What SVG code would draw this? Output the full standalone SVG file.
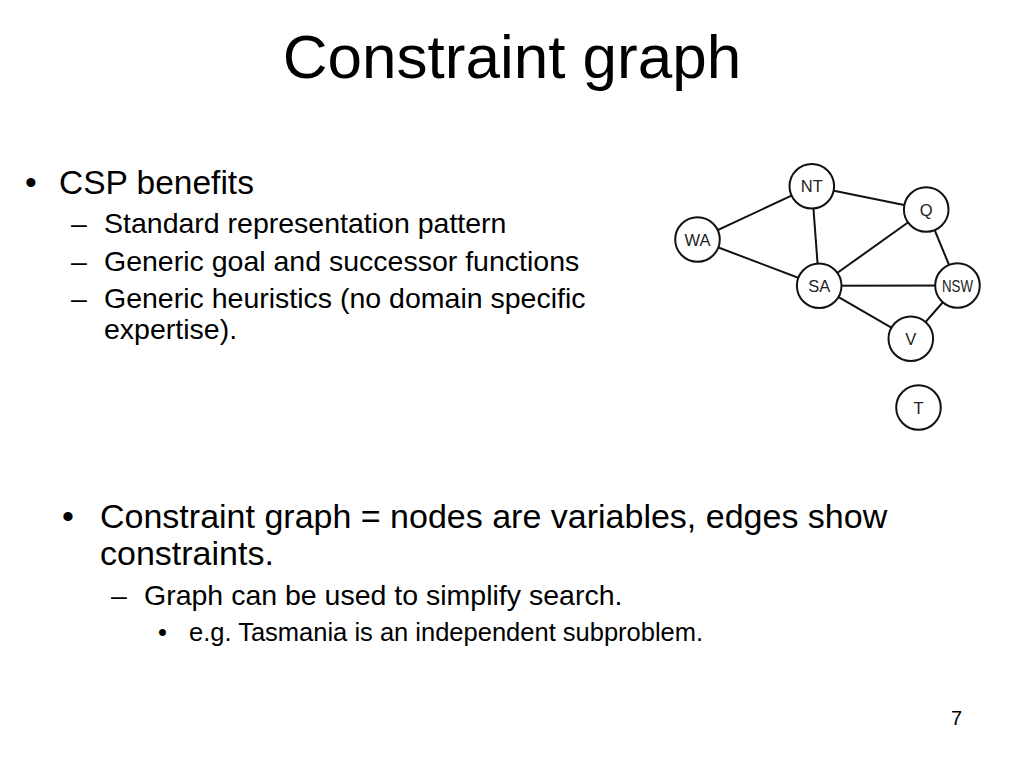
<svg xmlns="http://www.w3.org/2000/svg" width="1024" height="768" viewBox="0 0 1024 768">
<style>
text{font-family:"Liberation Sans",Arial,sans-serif;fill:#000}
.t{font-size:62px}
.l1{font-size:33.5px}
.b1{font-size:34px}
.l2{font-size:28.5px}
.l3{font-size:25.5px}
.n circle{fill:#fff;stroke:#111;stroke-width:2}
.n text{font-size:16.5px;fill:#222;text-anchor:middle}
#edges line{stroke:#111;stroke-width:2}
</style>
<rect width="1024" height="768" fill="#fff"/>
<text class="t" x="512" y="78" text-anchor="middle">Constraint graph</text>
<g id="top-bullets">
<text class="l1" x="25" y="194">•</text>
<text class="l1" x="59" y="194">CSP benefits</text>
<text class="l2" x="71" y="233">–</text>
<text class="l2" x="104" y="233">Standard representation pattern</text>
<text class="l2" x="71" y="271">–</text>
<text class="l2" x="104" y="271">Generic goal and successor functions</text>
<text class="l2" x="71" y="308">–</text>
<text class="l2" x="104" y="308">Generic heuristics (no domain specific</text>
<text class="l2" x="104" y="339">expertise).</text>
</g>
<g id="edges">
<line x1="697.5" y1="239.5" x2="811.8" y2="186.2"/>
<line x1="697.5" y1="239.5" x2="819.2" y2="285.8"/>
<line x1="811.8" y1="186.2" x2="819.2" y2="285.8"/>
<line x1="811.8" y1="186.2" x2="926.2" y2="209.5"/>
<line x1="819.2" y1="285.8" x2="926.2" y2="209.5"/>
<line x1="819.2" y1="285.8" x2="957.5" y2="285.5"/>
<line x1="819.2" y1="285.8" x2="910.8" y2="338.8"/>
<line x1="926.2" y1="209.5" x2="957.5" y2="285.5"/>
<line x1="957.5" y1="285.5" x2="910.8" y2="338.8"/>
</g>
<g id="node-NT" class="n"><circle cx="811.8" cy="186.2" r="22.3"/><text x="811.8" y="192.2">NT</text></g>
<g id="node-Q" class="n"><circle cx="926.2" cy="209.5" r="22.3"/><text x="926.2" y="215.5">Q</text></g>
<g id="node-WA" class="n"><circle cx="697.5" cy="239.5" r="22.3"/><text x="697.5" y="245.5">WA</text></g>
<g id="node-SA" class="n"><circle cx="819.2" cy="285.8" r="22.3"/><text x="819.2" y="291.8">SA</text></g>
<g id="node-NSW" class="n"><circle cx="957.5" cy="285.5" r="22.3"/><text x="957.5" y="291.5" textLength="31" lengthAdjust="spacingAndGlyphs">NSW</text></g>
<g id="node-V" class="n"><circle cx="910.8" cy="338.8" r="22.3"/><text x="910.8" y="344.8">V</text></g>
<g id="node-T" class="n"><circle cx="918.5" cy="407.5" r="22.3"/><text x="918.5" y="413.5">T</text></g>
<g id="bottom-bullets">
<text class="b1" x="62" y="528">•</text>
<text class="b1" x="100" y="528">Constraint graph = nodes are variables, edges show</text>
<text class="b1" x="100" y="565">constraints.</text>
<text class="l2" x="111" y="605">–</text>
<text class="l2" x="144" y="605">Graph can be used to simplify search.</text>
<text class="l3" x="158" y="641">•</text>
<text class="l3" x="189" y="641">e.g. Tasmania is an independent subproblem.</text>
</g>
<text x="951" y="725" font-size="20">7</text>
</svg>
